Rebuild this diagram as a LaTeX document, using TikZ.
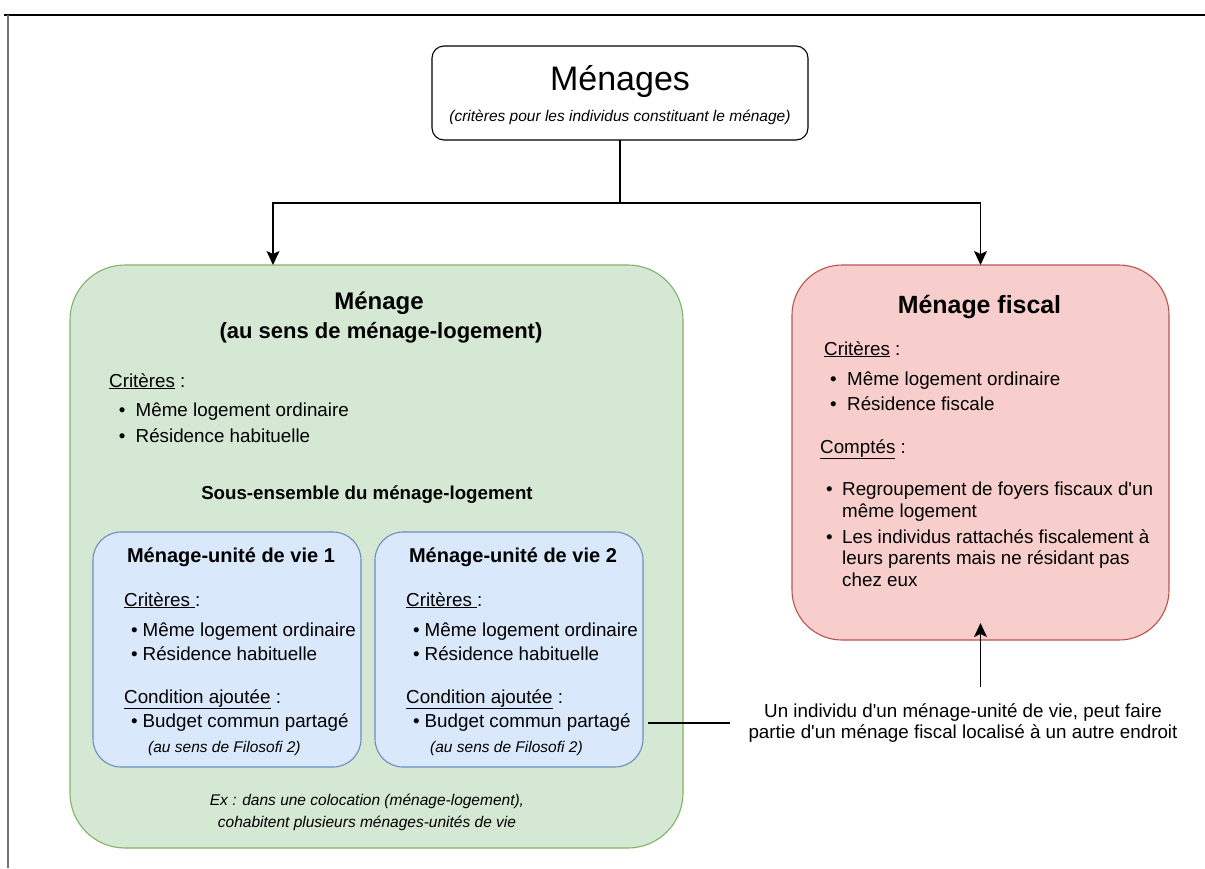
\documentclass[tikz,border=0pt]{standalone}
\usepackage{fontspec}
\setmainfont{Liberation Sans}
\usetikzlibrary{arrows.meta,positioning}

\definecolor{vertfond}{HTML}{D5E8D4}
\definecolor{vertbord}{HTML}{82B366}
\definecolor{rougefond}{HTML}{F8CECC}
\definecolor{rougebord}{HTML}{B85450}
\definecolor{bleufond}{HTML}{DAE8FC}
\definecolor{bleubord}{HTML}{6C8EBF}

\tikzset{
	boite/.style={draw, rectangle, outer sep=0pt, inner sep=0pt, line width=1.1pt},
	ligne/.style={anchor=base west, inner sep=0pt, font=\fontsize{18.8}{22}\selectfont},
	titre/.style={anchor=base, inner sep=0pt, font=\fontsize{20}{24}\selectfont\bfseries},
	note/.style={anchor=base, inner sep=0pt, font=\fontsize{15.5}{21}\selectfont\itshape},
	fleche/.style={-{Stealth[length=14pt,width=13pt,inset=3pt]}, line width=1.4pt},
}
\newcommand{\puce}[1]{\makebox[#1][l]{\textbullet}}

\begin{document}
\begin{tikzpicture}[x=1pt,y=-1pt]
	\useasboundingbox (0,0) rectangle (1205,868);
	% cadre
	\draw[line width=2pt] (4,15) -- (1205,15);
	\draw[line width=1.5pt, black!55] (8,15) -- (8,868);
	%
	\node[boite, fill=white, rounded corners=12pt, minimum width=376, minimum height=94] (menages) at (620,93) {};
	\node[boite, fill=vertfond, draw=vertbord, rounded corners=55pt, minimum width=613, minimum height=583] (logement) at (376.5,556.5) {};
	\node[boite, fill=rougefond, draw=rougebord, rounded corners=50pt, minimum width=377, minimum height=375] (fiscal) at (980.5,452.5) {};
	%
	\node[anchor=base, inner sep=0pt, font=\fontsize{34}{40}\selectfont] (menages-t) at (620,90) {Ménages};
	\node[note] (menages-st) at (620,121) {(critères pour les individus constituant le ménage)};
	%
	\coordinate (coude) at (620,203);
	\coordinate (entree) at (273,265);
	\draw[fleche] (menages.south) -- (coude) -| (entree);
	\draw[fleche] (coude) -| (fiscal.north);
	% menage-logement
	\node[titre, font=\fontsize{24}{28}\selectfont\bfseries] (logement-t) at (379,309) {Ménage};
	\node[titre, font=\fontsize{22}{26}\selectfont\bfseries] (logement-st) at (381,338) {(au sens de ménage-logement)};
	\node[ligne] (logement-crit) at (109,387) {\underline{Critères} :};
	\node[ligne] (logement-a) at (118.7,416) {\puce{16.8pt}Même logement ordinaire};
	\node[ligne] (logement-b) at (118.7,442) {\puce{16.8pt}Résidence habituelle};
	\node[titre, font=\fontsize{18.7}{22}\selectfont\bfseries] (sous) at (367,499) {Sous-ensemble du ménage-logement};
	\node[note] (ex1) at (367,805) {Ex : dans une colocation (ménage-logement),};
	\node[note] (ex2) at (367,827) {cohabitent plusieurs ménages-unités de vie};
	%
	\foreach \n/\x in {1/93,2/375}{
		\node[boite, fill=bleufond, draw=bleubord, rounded corners=28pt, minimum width=268, minimum height=235, anchor=north west] (vie\n) at (\x,532) {};
		\node[titre] (vie\n-t) at ({\x+138},562) {Ménage-unité de vie \n};
		\node[ligne] (vie\n-crit) at ({\x+31},606) {\underline{Critères }:};
		\node[ligne] (vie\n-a) at ({\x+38},636) {\puce{11.5pt}Même logement ordinaire};
		\node[ligne] (vie\n-b) at ({\x+38},660) {\puce{11.5pt}Résidence habituelle};
		\node[ligne] (vie\n-cond) at ({\x+31},703) {\underline{Condition ajoutée} :};
		\node[ligne] (vie\n-c) at ({\x+38},727) {\puce{11.5pt}Budget commun partagé};
		\node[note, anchor=base west] (vie\n-note) at ({\x+55},752) {(au sens de Filosofi 2)};
	}
	% menage fiscal
	\node[titre, font=\fontsize{24.9}{28}\selectfont\bfseries] (fiscal-t) at (979.5,313) {Ménage fiscal};
	\node[ligne] (fiscal-crit) at (824,355) {\underline{Critères} :};
	\node[ligne] (fiscal-a) at (830,385) {\puce{17pt}Même logement ordinaire};
	\node[ligne] (fiscal-b) at (830,410) {\puce{17pt}Résidence fiscale};
	\node[ligne] (fiscal-cpt) at (820,453) {\underline{Comptés} :};
	\node[ligne] (fiscal-c) at (826,495) {\puce{16pt}Regroupement de foyers fiscaux d\textquotesingle un};
	\node[ligne] (fiscal-c2) at (842,517) {même logement};
	\node[ligne] (fiscal-d) at (826,543) {\puce{16pt}Les individus rattachés fiscalement à};
	\node[ligne] (fiscal-d2) at (842,564) {leurs parents mais ne résidant pas};
	\node[ligne] (fiscal-d3) at (842,586) {chez eux};
	%
	\node[align=center, inner xsep=18pt, inner ysep=16pt, font=\fontsize{18.8}{21}\selectfont] (annot) at (963,723) {Un individu d\textquotesingle un ménage-unité de vie, peut faire\\partie d\textquotesingle un ménage fiscal localisé à un autre endroit};
	\draw[line width=1.3pt, shorten <=5pt] (vie2.east |- annot.west) -- (annot.west);
	\draw[fleche, shorten >=-17pt] (fiscal.south |- annot.north) -- (fiscal.south);
\end{tikzpicture}
\end{document}
